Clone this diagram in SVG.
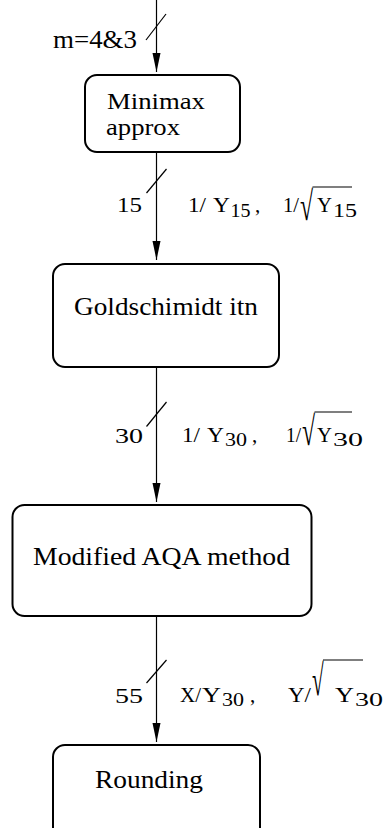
<svg xmlns="http://www.w3.org/2000/svg" width="385" height="828" viewBox="0 0 385 828">
  <style>
    .box { fill: #ffffff; stroke: #000000; stroke-width: 2; }
    .wire { stroke: #000000; stroke-width: 1.2; fill: none; }
    .tick { stroke: #000000; stroke-width: 1.2; }
    .bar { stroke: #000000; stroke-width: 1.2; }
    text { font-family: "Liberation Serif", "Times New Roman", serif; fill: #000000; }
    .t { font-size: 25px; }
    .t2 { font-size: 23px; }
    .l { font-size: 21px; }
    .s { font-size: 19px; }
    .rad { font-size: 25px; }
  </style>
  <defs>
    <marker id="arrow" markerUnits="userSpaceOnUse" markerWidth="20" markerHeight="10" viewBox="0 -5 20 10" refX="19" refY="0" orient="auto">
      <path d="M0,-4 L19,0 L0,4 z" fill="#000000"/>
    </marker>
  </defs>

  <!-- connectors -->
  <g id="connectors">
    <line class="wire" x1="156.5" y1="0" x2="156.5" y2="72" marker-end="url(#arrow)"/>
    <line class="wire" x1="156.5" y1="153" x2="156.5" y2="260" marker-end="url(#arrow)"/>
    <line class="wire" x1="156.5" y1="368" x2="156.5" y2="502" marker-end="url(#arrow)"/>
    <line class="wire" x1="156.5" y1="617" x2="156.5" y2="742" marker-end="url(#arrow)"/>
    <!-- bus-width ticks -->
    <line class="tick" x1="146" y1="40" x2="166" y2="14"/>
    <line class="tick" x1="146.5" y1="193" x2="166.5" y2="169"/>
    <line class="tick" x1="146.5" y1="426.5" x2="166.5" y2="402"/>
    <line class="tick" x1="146.5" y1="683" x2="166.5" y2="660"/>
  </g>

  <!-- input label -->
  <g id="input-label">
    <text class="t" x="53" y="48" textLength="84" lengthAdjust="spacingAndGlyphs">m=4&amp;3</text>
  </g>

  <g id="minimax">
    <rect class="box" x="85" y="75" width="155" height="77" rx="12"/>
    <text class="t2" x="107" y="109" textLength="98" lengthAdjust="spacingAndGlyphs">Minimax</text>
    <text class="t2" x="106" y="135" textLength="74" lengthAdjust="spacingAndGlyphs">approx</text>
  </g>

  <g id="goldschmidt">
    <rect class="box" x="53" y="264" width="226" height="103" rx="12"/>
    <text class="t" x="74" y="315" textLength="184" lengthAdjust="spacingAndGlyphs">Goldschimidt itn</text>
  </g>

  <g id="aqa">
    <rect class="box" x="12.5" y="505" width="299" height="111" rx="12"/>
    <text class="t" x="33" y="565" textLength="257" lengthAdjust="spacingAndGlyphs">Modified AQA method</text>
  </g>

  <g id="rounding">
    <rect class="box" x="53" y="745" width="207" height="110" rx="12"/>
    <text class="t" x="95" y="788" textLength="108" lengthAdjust="spacingAndGlyphs">Rounding</text>
  </g>

  <!-- width 15 -->
  <g id="label-15">
    <text class="l" x="117" y="212" textLength="25" lengthAdjust="spacingAndGlyphs">15</text>
    <text class="l" x="188" y="212" textLength="18" lengthAdjust="spacingAndGlyphs">1/</text>
    <text class="l" x="213" y="212" textLength="17" lengthAdjust="spacingAndGlyphs">Y</text>
    <text class="s" x="230.5" y="217" textLength="20" lengthAdjust="spacingAndGlyphs">15</text>
    <text class="l" x="255" y="212">,</text>
    <text class="l" x="283" y="212" textLength="16" lengthAdjust="spacingAndGlyphs">1/</text>
    <text class="rad" transform="translate(300 220) scale(0.95 1.65)">√</text>
    <line class="bar" x1="312.5" y1="187" x2="352" y2="187"/>
    <text class="l" x="317" y="212" textLength="15" lengthAdjust="spacingAndGlyphs">Y</text>
    <text class="s" x="333" y="217" textLength="24" lengthAdjust="spacingAndGlyphs">15</text>
  </g>

  <!-- width 30 -->
  <g id="label-30">
    <text class="l" x="115" y="443" textLength="28" lengthAdjust="spacingAndGlyphs">30</text>
    <text class="l" x="182" y="442" textLength="18" lengthAdjust="spacingAndGlyphs">1/</text>
    <text class="l" x="207" y="442" textLength="17" lengthAdjust="spacingAndGlyphs">Y</text>
    <text class="s" x="225" y="446" textLength="22" lengthAdjust="spacingAndGlyphs">30</text>
    <text class="l" x="252" y="442">,</text>
    <text class="l" x="286" y="442" textLength="15" lengthAdjust="spacingAndGlyphs">1/</text>
    <text class="rad" transform="translate(302 445) scale(0.95 1.65)">√</text>
    <line class="bar" x1="314.5" y1="412" x2="352" y2="412"/>
    <text class="l" x="317" y="442" textLength="15" lengthAdjust="spacingAndGlyphs">Y</text>
    <text class="s" x="333" y="446" textLength="30" lengthAdjust="spacingAndGlyphs">30</text>
  </g>

  <!-- width 55 -->
  <g id="label-55">
    <text class="l" x="115" y="703" textLength="28" lengthAdjust="spacingAndGlyphs">55</text>
    <text class="l" x="180" y="702" textLength="21" lengthAdjust="spacingAndGlyphs">X/</text>
    <text class="l" x="202" y="702" textLength="19" lengthAdjust="spacingAndGlyphs">Y</text>
    <text class="s" x="222" y="706" textLength="22" lengthAdjust="spacingAndGlyphs">30</text>
    <text class="l" x="250" y="702">,</text>
    <text class="l" x="288" y="702" textLength="23" lengthAdjust="spacingAndGlyphs">Y/</text>
    <text class="rad" transform="translate(312 695) scale(0.85 1.75)">√</text>
    <line class="bar" x1="323" y1="660" x2="363" y2="660"/>
    <text class="l" x="335" y="702" textLength="19" lengthAdjust="spacingAndGlyphs">Y</text>
    <text class="s" x="355" y="706" textLength="28" lengthAdjust="spacingAndGlyphs">30</text>
  </g>
</svg>
